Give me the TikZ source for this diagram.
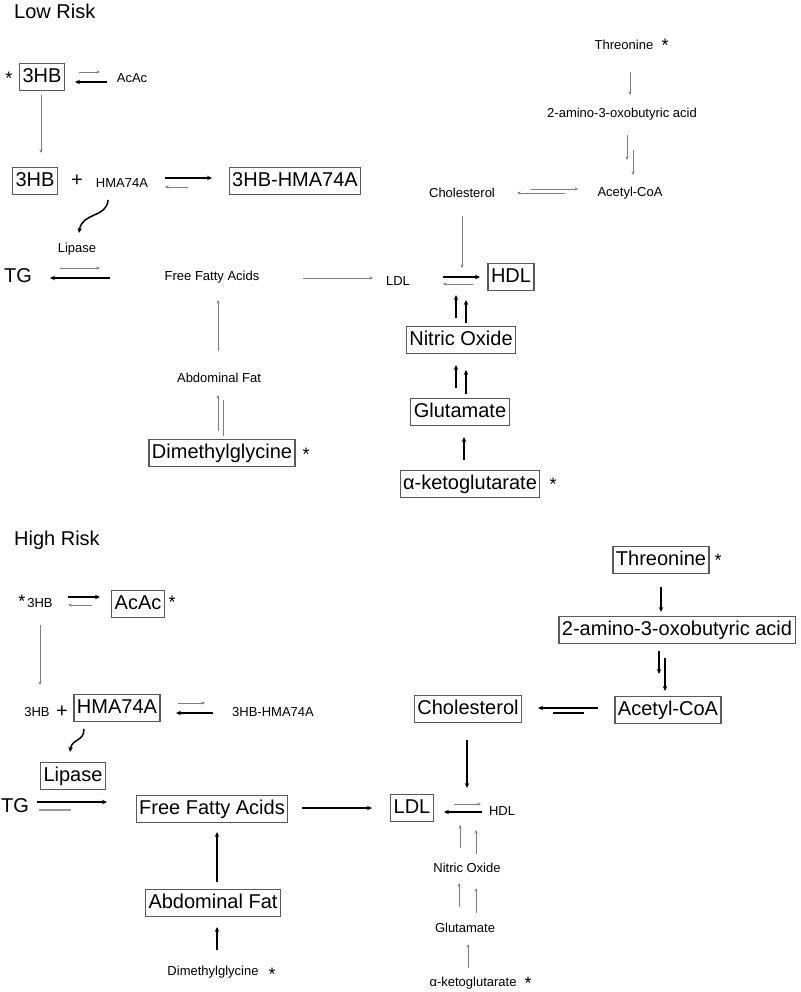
\documentclass[tikz,border=0pt]{standalone}
\usepackage{fontspec}
\setmainfont{Liberation Sans}
\usetikzlibrary{calc,arrows.meta}
\begin{document}
\begin{tikzpicture}[x=1pt,y=-1pt,
 big/.style={font=\fontsize{20}{24}\selectfont,inner sep=1pt},
 sm/.style={font=\fontsize{13}{15}\selectfont,inner sep=1pt},
 box/.style={draw=black!65,line width=1.1pt,font=\fontsize{20}{24}\selectfont,text height=15pt,text depth=4.5pt,inner xsep=3pt,inner ysep=3.5pt},
 starnode/.style={font=\fontsize{18}{20}\selectfont,inner sep=0pt},
 thin/.style={draw=black!50,line width=0.75pt,-{Stealth[length=3.5pt,width=3pt]}},
 thinline/.style={draw=black!50,line width=0.75pt},
 thk/.style={draw=black,line width=1.5pt,-{Stealth[length=5pt,width=4.5pt]}},
 thkline/.style={draw=black,line width=1.2pt},
 greybar/.style={draw=black!40,line width=1.6pt},
]
\useasboundingbox (0,0) rectangle (800,992);
% ================= LOW RISK =================
\node[big,anchor=west] (t1) at (13,11) {Low Risk};
\node[starnode] (s1) at (9,78) {*};
\node[box] (a1) at (42,77) {3HB};
\node[sm] (a2) at (132,78) {AcAc};
\node[box] (a3) at (35,181) {3HB};
\node[big] (a4) at (77,181) {+};
\node[sm] (a5) at (122,183) {HMA74A};
\node[box] (a6) at (295,181) {3HB-HMA74A};
\node[sm] (a7) at (77,249) {Lipase};
\node[big] (a8) at (18,276) {TG};
\node[sm] (a9) at (212,277) {Free Fatty Acids};
\node[sm] (a10) at (398,281) {LDL};
\node[box] (a11) at (511,277) {HDL};
\node[sm] (a12) at (462,193) {Cholesterol};
\node[sm] (a13) at (630,193) {Acetyl-CoA};
\node[sm] (a14) at (622,114) {2-amino-3-oxobutyric acid};
\node[sm] (a15) at (624,45) {Threonine};
\node[starnode] (s2) at (665,45) {*};
\node[box] (a16) at (461,340) {Nitric Oxide};
\node[box] (a17) at (460,412) {Glutamate};
\node[box] (a18) at (470,484) {α-ketoglutarate};
\node[starnode] (s3) at (553,484) {*};
\node[sm] (a19) at (219,378) {Abdominal Fat};
\node[box] (a20) at (222,453) {Dimethylglycine};
\node[starnode] (s4) at (306,454) {*};

\draw[thin] ($(a1)+(37,-5)$) -- ($(a2)+(-32,-6)$);
\draw[thk] ($(a2)+(-25,4)$) -- ($(a1)+(33,5)$);
\draw[thin] ($(a1)+(-1,18)$) -- ($(a3)+(6,-28)$);
\draw[thk] ($(a5)+(43,-5)$) -- ($(a6)+(-83,-3)$);
\draw[thin] ($(a6)+(-107,6)$) -- ($(a5)+(43,4)$);
\draw[thk] ($(a5)+(-14,17)$) .. controls ($(a5)+(-15,35)$) and ($(a7)+(5,-37)$) .. ($(a7)+(2,-16)$);
\draw[thin] ($(a8)+(42,-8)$) -- ($(a9)+(-112,-9)$);
\draw[thk] ($(a9)+(-102,1)$) -- ($(a8)+(32,2)$);
\draw[thin] ($(a9)+(91,1)$) -- ($(a10)+(-25,-3)$);
\draw[thk] ($(a10)+(45,-4)$) -- ($(a11)+(-31,0)$);
\draw[thin] ($(a11)+(-38,7)$) -- ($(a10)+(45,3)$);
\draw[thin] ($(a12)+(0,23)$) -- ($(a10)+(64,-13)$);
\draw[thin] ($(a13)+(-65,0)$) -- ($(a12)+(55,0)$);
\draw[thin] ($(a12)+(69,-4)$) -- ($(a13)+(-52,-4)$);
\draw[thin] ($(a15)+(6,27)$) -- ($(a14)+(8,-19)$);
\draw[thin] ($(a14)+(5,21)$) -- ($(a13)+(-3,-33)$);
\draw[thin] ($(a14)+(11,36)$) -- ($(a13)+(3,-18)$);
\draw[thk] ($(a16)+(-5,-22)$) -- ($(a10)+(58,14)$);
\draw[thk] ($(a16)+(5,-17)$) -- ($(a10)+(68,19)$);
\draw[thk] ($(a17)+(-4,-24)$) -- ($(a16)+(-5,25)$);
\draw[thk] ($(a17)+(6,-18)$) -- ($(a16)+(5,30)$);
\draw[thk] ($(a18)+(-6,-24)$) -- ($(a17)+(4,25)$);
\draw[thin] ($(a19)+(-1,-27)$) -- ($(a9)+(6,23)$);
\draw[thin] ($(a20)+(-4,-22)$) -- ($(a19)+(-1,17)$);
\draw[thinline] ($(a20)+(1,-17)$) -- ($(a19)+(4,22)$);

% ================= HIGH RISK =================
\node[big,anchor=west] (t2) at (13,540) {High Risk};
\node[starnode] (s5) at (22,601) {*};
\node[sm] (b1) at (40,603) {3HB};
\node[box] (b2) at (138,604) {AcAc};
\node[starnode] (s6) at (172,602) {*};
\node[sm] (b3) at (37,712) {3HB};
\node[big] (b4) at (62,712) {+};
\node[box] (b5) at (117,708) {HMA74A};
\node[sm] (b6) at (273,712) {3HB-HMA74A};
\node[box] (b7) at (73,776) {Lipase};
\node[big] (b8) at (15,806) {TG};
\node[box] (b9) at (212,809) {Free Fatty Acids};
\node[box] (b10) at (412,808) {LDL};
\node[sm] (b11) at (502,811) {HDL};
\node[box] (b12) at (468,709) {Cholesterol};
\node[box] (b13) at (668,710) {Acetyl-CoA};
\node[box] (b14) at (677,630) {2-amino-3-oxobutyric acid};
\node[box] (b15) at (661,560) {Threonine};
\node[starnode] (s7) at (718,560) {*};
\node[sm] (b16) at (467,868) {Nitric Oxide};
\node[sm] (b17) at (465,928) {Glutamate};
\node[sm] (b18) at (473,983) {α-ketoglutarate};
\node[starnode] (s8) at (528,983) {*};
\node[box] (b19) at (213,903) {Abdominal Fat};
\node[sm] (b20) at (213,972) {Dimethylglycine};
\node[starnode] (s9) at (272,974) {*};

\draw[thk] ($(b1)+(28,-6)$) -- ($(b2)+(-38,-7)$);
\draw[thin] ($(b2)+(-46,1)$) -- ($(b1)+(28,2)$);
\draw[thin] ($(b1)+(0,22)$) -- ($(b3)+(3,-27)$);
\draw[thin] ($(b5)+(61,-5)$) -- ($(b6)+(-68,-9)$);
\draw[thk] ($(b6)+(-60,1)$) -- ($(b5)+(59,5)$);
\draw[thk] ($(b5)+(-33,21)$) .. controls ($(b5)+(-33,34)$) and ($(b7)+(-1,-38)$) .. ($(b7)+(-3,-24)$);
\draw[thk] ($(b8)+(22,-4)$) -- ($(b9)+(-105,-7)$);
\draw[greybar] ($(b8)+(24,4)$) -- ($(b9)+(-141,1)$);
\draw[thk] ($(b9)+(90,-1)$) -- ($(b10)+(-40,0)$);
\draw[thin] ($(b10)+(42,-4)$) -- ($(b11)+(-21,-7)$);
\draw[thk] ($(b11)+(-20,1)$) -- ($(b10)+(32,4)$);
\draw[thk] ($(b12)+(-1,31)$) -- ($(b10)+(55,-20)$);
\draw[thk] ($(b13)+(-70,-2)$) -- ($(b12)+(70,-1)$);
\draw[thkline] ($(b13)+(-84,3)$) -- ($(b12)+(85,4)$);
\draw[thk] ($(b15)+(0,27)$) -- ($(b14)+(-16,-18)$);
\draw[thk] ($(b14)+(-18,21)$) -- ($(b13)+(-9,-36)$);
\draw[thk] ($(b14)+(-12,28)$) -- ($(b13)+(-3,-19)$);
\draw[thin] ($(b16)+(-7,-20)$) -- ($(b10)+(48,17)$);
\draw[thin] ($(b16)+(9,-14)$) -- ($(b10)+(64,22)$);
\draw[thin] ($(b17)+(-6,-21)$) -- ($(b16)+(-8,15)$);
\draw[thin] ($(b17)+(11,-15)$) -- ($(b16)+(9,20)$);
\draw[thin] ($(b18)+(-5,-15)$) -- ($(b17)+(3,16)$);
\draw[thk] ($(b19)+(4,-21)$) -- ($(b9)+(5,23)$);
\draw[thk] ($(b20)+(4,-22)$) -- ($(b19)+(4,24)$);
\end{tikzpicture}
\end{document}
